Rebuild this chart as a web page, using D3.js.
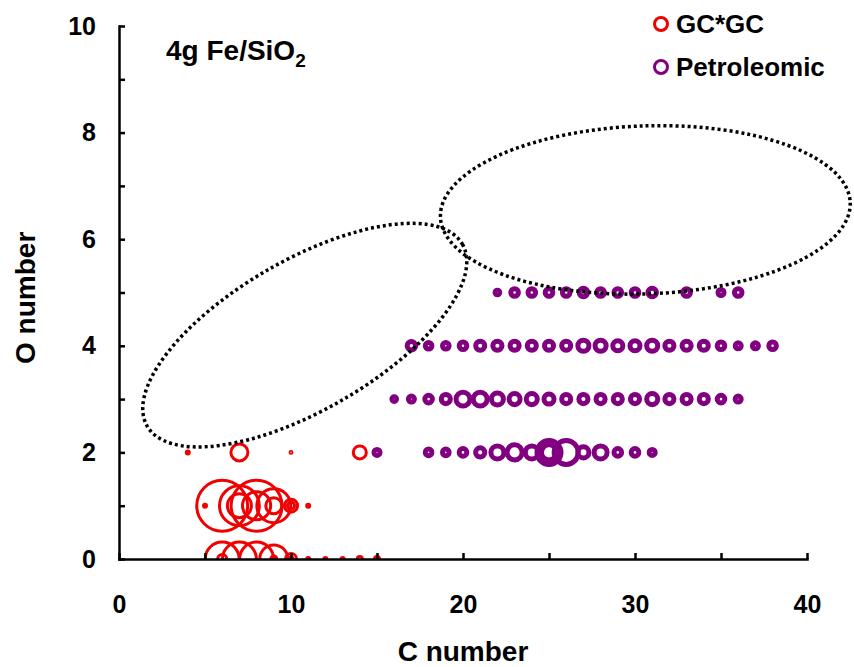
<!DOCTYPE html>
<html lang="en">
<head>
    <meta charset="UTF-8">
    <title>C number vs O number - 4g Fe/SiO2</title>
    <script src="https://d3js.org/d3.v7.min.js"></script>
    <style>
        body { margin: 0; background: #fff; }
        text {
            font-family: "Liberation Sans", Arial, sans-serif;
            font-weight: bold;
            fill: #000;
        }
        .axis path, .axis line {
            stroke: #000;
            stroke-width: 2.5px;
        }
        .axis text { font-size: 25px; }
        .bubble { fill: none; }
    </style>
</head>
<body>
    <svg width="854" height="667"></svg>

    <script>
        // axis ticks
        const xTicks = [0, 5, 10, 15, 20, 25, 30, 35, 40];
        const yTicks = [0, 1, 2, 3, 4, 5, 6, 7, 8, 9, 10];

        // GC*GC (C number, O number, relative abundance)
        const gcC = [4, 7, 10, 14,
                     5, 6, 7, 7, 8, 8, 9, 9, 10, 10, 11,
                     6, 6, 7, 8, 9, 9, 10, 10, 11, 12, 13, 14, 15];
        const gcO = [2, 2, 2, 2,
                     1, 1, 1, 1, 1, 1, 1, 1, 1, 1, 1,
                     0, 0, 0, 0, 0, 0, 0, 0, 0, 0, 0, 0, 0];
        const gcA = [0.25, 8, 0.1, 4.7,
                     0.25, 72, 44, 16, 72, 22, 32, 7.1, 4.7, 1.4, 0.25,
                     32, 2.3, 32, 32, 22, 1, 3.4, 0.4, 0.25, 0.25, 0.25, 0.7, 0.7];

        // Petroleomic, one pair of arrays per O number
        const petC_O2 = [15, 18, 19, 20, 21, 22, 23, 24, 25, 25, 26, 27, 28, 29, 30, 31];
        const petA_O2 = [1, 1.2, 1.2, 1.6, 2.3, 4.7, 6.3, 4.7, 6.3, 16, 16, 3.4, 4.7, 1.6, 1.6, 1];
        const petC_O3 = [16, 17, 18, 19, 20, 21, 22, 23, 24, 25, 26, 27, 28, 29, 30, 31, 32, 33, 34, 35, 36];
        const petA_O3 = [0.6, 1, 1.6, 2.3, 5.4, 5.4, 4, 3.4, 3.4, 2.8, 2.3, 2.3, 2.3, 2.3, 2.3, 3.4, 2.3, 2.3, 2.3, 1.6, 1];
        const petC_O4 = [17, 18, 19, 20, 21, 22, 23, 24, 25, 26, 27, 28, 29, 30, 31, 32, 33, 34, 35, 36, 37, 38];
        const petA_O4 = [2, 1.2, 1.2, 1.6, 2.3, 2.3, 2.3, 2.3, 2.3, 2.3, 3.4, 3.4, 2.8, 2.8, 3.4, 2.3, 2.3, 2.3, 1.6, 1, 1, 1.6];
        const petC_O5 = [22, 23, 24, 25, 26, 27, 28, 29, 30, 31, 33, 35, 36];
        const petA_O5 = [0.6, 1.6, 1.6, 1.6, 1.6, 2, 1.6, 1.6, 1.6, 2, 1.6, 1, 1.6];

        // dotted regions: centre in (C, O)
        const regionC = [10.8, 30.6];
        const regionO = [4.2, 6.55];

        const svg = d3.select("svg");
        const x = d3.scaleLinear().domain([0, 40]).range([119, 807]);
        const y = d3.scaleLinear().domain([0, 10]).range([559, 26]);
        const r = d3.scaleSqrt().domain([0, 100]).range([0, 30]);

        const gcPoints = gcC.map((c, i) => ({ c: c, o: gcO[i], a: gcA[i] }));
        const petPoints = [];
        [[2, petC_O2, petA_O2], [3, petC_O3, petA_O3], [4, petC_O4, petA_O4], [5, petC_O5, petA_O5]]
            .forEach(([o, cs, as]) => cs.forEach((c, i) => petPoints.push({ c: c, o: o, a: as[i] })));

        svg.append("clipPath").attr("id", "plot")
            .append("rect")
            .attr("x", x(0)).attr("y", 0)
            .attr("width", x(40) - x(0) + 20).attr("height", y(0));

        const plot = svg.append("g").attr("clip-path", "url(#plot)");

        plot.append("g").selectAll("circle")
            .data(gcPoints)
            .enter().append("circle")
            .attr("class", "bubble")
            .attr("cx", d => x(d.c))
            .attr("cy", d => y(d.o))
            .attr("r", d => r(d.a))
            .attr("stroke", "#f00000")
            .attr("stroke-width", 3);

        plot.append("g").selectAll("circle")
            .data(petPoints)
            .enter().append("circle")
            .attr("class", "bubble")
            .attr("cx", d => x(d.c))
            .attr("cy", d => y(d.o))
            .attr("r", d => r(d.a))
            .attr("stroke", "#800080")
            .attr("stroke-width", 5);

        // dotted ellipses
        const ellipseShape = [{ rx: 182, ry: 75, rot: -30 }, { rx: 205, ry: 84, rot: -2 }];
        svg.append("g").selectAll("ellipse")
            .data(ellipseShape)
            .enter().append("ellipse")
            .attr("transform", (d, i) => `translate(${x(regionC[i])},${y(regionO[i])}) rotate(${d.rot})`)
            .attr("rx", d => d.rx)
            .attr("ry", d => d.ry)
            .attr("fill", "none")
            .attr("stroke", "#000")
            .attr("stroke-width", 3.5)
            .attr("stroke-dasharray", "3,3");

        // axes
        svg.append("g")
            .attr("class", "axis")
            .attr("transform", `translate(0,${y(0)})`)
            .call(d3.axisBottom(x)
                .tickValues(xTicks)
                .tickSizeInner(-6)
                .tickSizeOuter(0)
                .tickPadding(36)
                .tickFormat(d => d % 10 === 0 ? d : ""));

        svg.append("g")
            .attr("class", "axis")
            .attr("transform", `translate(${x(0)},0)`)
            .call(d3.axisLeft(y)
                .tickValues(yTicks)
                .tickSizeInner(-6)
                .tickSizeOuter(0)
                .tickPadding(23)
                .tickFormat(d => d % 2 === 0 ? d : ""));

        svg.selectAll(".axis .domain").attr("stroke-linecap", "square");

        // axis titles
        svg.append("text")
            .attr("x", x(20))
            .attr("y", 661)
            .attr("text-anchor", "middle")
            .style("font-size", "28px")
            .text("C number");

        svg.append("text")
            .attr("transform", `translate(35,${y(4.9)}) rotate(-90)`)
            .attr("text-anchor", "middle")
            .style("font-size", "28px")
            .text("O number");

        // sample label
        const label = svg.append("text")
            .attr("x", 166)
            .attr("y", 60)
            .style("font-size", "28px")
            .text("4g Fe/SiO");
        label.append("tspan")
            .attr("dy", 7)
            .style("font-size", "19px")
            .text("2");

        // legend
        const legendNames = ["GC*GC", "Petroleomic"];
        const legendColors = ["#f00000", "#800080"];
        const legend = svg.append("g").selectAll("g")
            .data(legendNames)
            .enter().append("g")
            .attr("transform", (d, i) => `translate(661,${24 + i * 43})`);
        legend.append("circle")
            .attr("r", 6.5)
            .attr("fill", "none")
            .attr("stroke-width", 3)
            .attr("stroke", (d, i) => legendColors[i]);
        legend.append("text")
            .attr("x", 15)
            .attr("y", 9)
            .style("font-size", "26px")
            .text(d => d);
    </script>
</body>
</html>
